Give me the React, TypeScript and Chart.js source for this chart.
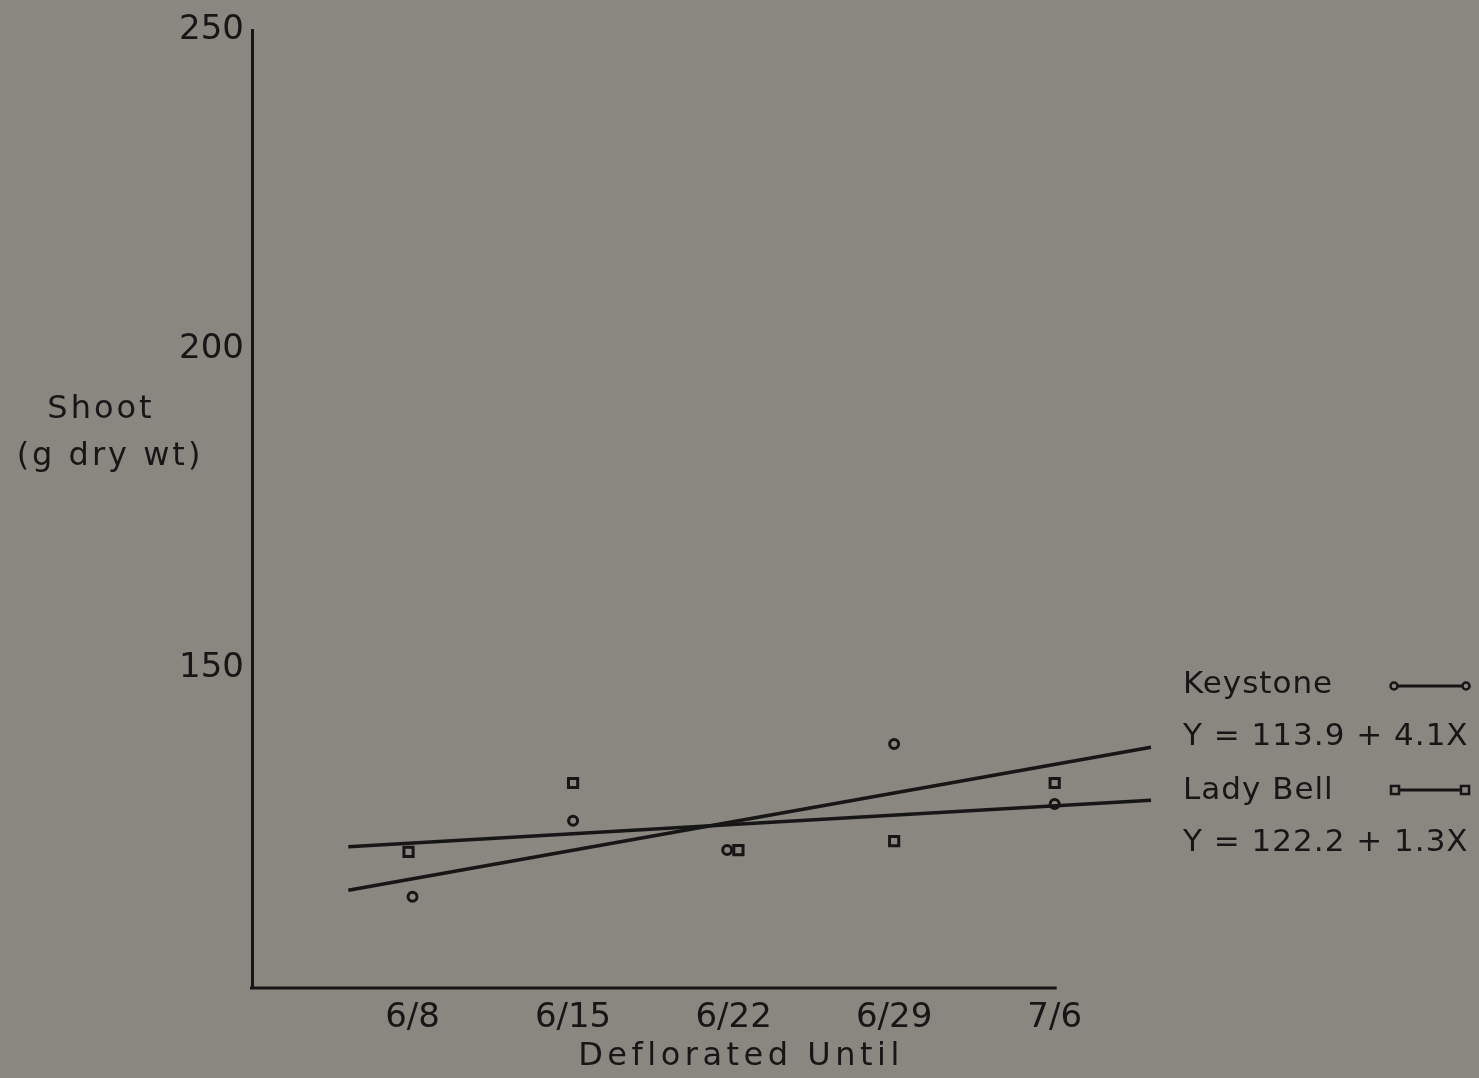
import React, { useEffect, useRef } from "react";
import { Chart, registerables } from "chart.js";

Chart.register(...registerables);

// ---- data ----
const xTickValues = [1, 2, 3, 4, 5];
const xTickLabels = ["6/8", "6/15", "6/22", "6/29", "7/6"];
const yTickValues = [150, 200, 250];

const keystoneX = [1, 2, 2.96, 4, 5];
const keystoneY = [114.3, 126.2, 121.6, 138.2, 128.8];

const ladyBellX = [0.975, 2, 3.03, 4, 5];
const ladyBellY = [121.3, 132.1, 121.6, 123.0, 132.1];

const fitX = [0.6, 5.6];
const keystoneFitY = [115.3, 137.7];
const ladyBellFitY = [122.1, 129.4];

const keystoneName = "Keystone";
const keystoneEq = "Y = 113.9 + 4.1X";
const ladyBellName = "Lady Bell";
const ladyBellEq = "Y = 122.2 + 1.3X";
const yTitleLines = ["Shoot", "(g dry wt)"];
const xTitle = "Deflorated Until";

const BG = "#8a8680";
const INK = "#161616";
const FONT = "'DejaVu Sans', sans-serif";

const zip = (xs: number[], ys: number[]) => xs.map((x, i) => ({ x, y: ys[i] }));

const decorPlugin = {
  id: "decor",
  beforeDraw(chart: any) {
    const ctx = chart.ctx;
    ctx.save();
    ctx.fillStyle = BG;
    ctx.fillRect(0, 0, chart.width, chart.height);
    ctx.restore();
  },
  afterDraw(chart: any) {
    const ctx = chart.ctx;
    const xs = chart.scales.x;
    const ca = chart.chartArea;
    ctx.save();
    // x axis line from 0 to 5
    ctx.strokeStyle = INK;
    ctx.lineWidth = 3;
    ctx.beginPath();
    ctx.moveTo(xs.getPixelForValue(0) - 2, ca.bottom);
    ctx.lineTo(xs.getPixelForValue(5) + 2, ca.bottom);
    ctx.stroke();

    ctx.fillStyle = INK;
    ctx.textBaseline = "middle";
    // y title
    ctx.font = `32px ${FONT}`;
    ctx.textAlign = "center";
    (ctx as any).letterSpacing = "3px";
    ctx.fillText(yTitleLines[0], 101, 410);
    ctx.fillText(yTitleLines[1], 110, 457);
    // x title
    (ctx as any).letterSpacing = "4.5px";
    ctx.fillText(xTitle, 741, 1057);

    // legend
    (ctx as any).letterSpacing = "1px";
    ctx.textAlign = "left";
    ctx.font = `31px ${FONT}`;
    ctx.fillText(keystoneName, 1183, 685);
    ctx.fillText(keystoneEq, 1183, 737);
    ctx.fillText(ladyBellName, 1183, 791);
    ctx.fillText(ladyBellEq, 1183, 843);

    ctx.lineWidth = 3;
    // keystone marker
    ctx.beginPath();
    ctx.moveTo(1398, 686);
    ctx.lineTo(1462, 686);
    ctx.stroke();
    ctx.lineWidth = 2.5;
    [1394, 1466].forEach((cx) => {
      ctx.beginPath();
      ctx.arc(cx, 686, 3.5, 0, Math.PI * 2);
      ctx.stroke();
    });
    // lady bell marker
    ctx.lineWidth = 3;
    ctx.beginPath();
    ctx.moveTo(1400, 790);
    ctx.lineTo(1460, 790);
    ctx.stroke();
    ctx.lineWidth = 2.5;
    [1395, 1465].forEach((cx) => {
      ctx.strokeRect(cx - 4, 790 - 4, 8, 8);
    });
    ctx.restore();
  },
};

export default function App() {
  const ref = useRef<HTMLCanvasElement | null>(null);

  useEffect(() => {
    document.body.style.margin = "0";
    document.body.style.overflow = "hidden";
    document.body.style.background = BG;
    const canvas = ref.current!;
    const chart = new Chart(canvas, {
      type: "scatter",
      data: {
        datasets: [
          {
            label: keystoneName,
            data: zip(keystoneX, keystoneY),
            pointStyle: "circle",
            pointRadius: 4.5,
            borderColor: INK,
            backgroundColor: "transparent",
            borderWidth: 3,
            showLine: false,
          },
          {
            label: ladyBellName,
            data: zip(ladyBellX, ladyBellY),
            pointStyle: "rect",
            pointRadius: 6.5,
            borderColor: INK,
            backgroundColor: "transparent",
            borderWidth: 3,
            showLine: false,
          },
          {
            label: keystoneName + " fit",
            data: zip(fitX, keystoneFitY),
            showLine: true,
            pointRadius: 0,
            borderColor: INK,
            borderWidth: 3.5,
            clip: false as any,
          },
          {
            label: ladyBellName + " fit",
            data: zip(fitX, ladyBellFitY),
            showLine: true,
            pointRadius: 0,
            borderColor: INK,
            borderWidth: 3.5,
            clip: false as any,
          },
        ],
      },
      options: {
        responsive: false,
        animation: false,
        layout: { padding: { top: 30, right: 328, left: 0, bottom: 0 } },
        plugins: {
          legend: { display: false },
          tooltip: { enabled: false },
        },
        scales: {
          x: {
            type: "linear",
            min: 0,
            max: 5.6,
            grid: { display: false, drawTicks: false },
            border: { display: false },
            afterBuildTicks: (s: any) => {
              s.ticks = xTickValues.map((v) => ({ value: v }));
            },
            afterFit: (s: any) => {
              s.height = 90;
            },
            ticks: {
              autoSkip: false,
              maxRotation: 0,
              padding: 10,
              color: INK,
              font: { family: FONT, size: 34 },
              callback: (v: any) => {
                const i = xTickValues.indexOf(Number(v));
                return i >= 0 ? xTickLabels[i] : "";
              },
            },
          },
          y: {
            type: "linear",
            min: 100,
            max: 250,
            grid: { display: false, drawTicks: false },
            border: { display: true, color: INK, width: 3 },
            afterBuildTicks: (s: any) => {
              s.ticks = yTickValues.map((v) => ({ value: v }));
            },
            afterFit: (s: any) => {
              s.width = 252;
            },
            ticks: {
              padding: 8,
              color: INK,
              font: { family: FONT, size: 34 },
              callback: (v: any) => String(v),
            },
          },
        },
      },
      plugins: [decorPlugin],
    });
    return () => chart.destroy();
  }, []);

  return (
    <div style={{ width: 1479, height: 1078, background: BG }}>
      <canvas ref={ref} width={1479} height={1078} style={{ display: "block" }} />
    </div>
  );
}
